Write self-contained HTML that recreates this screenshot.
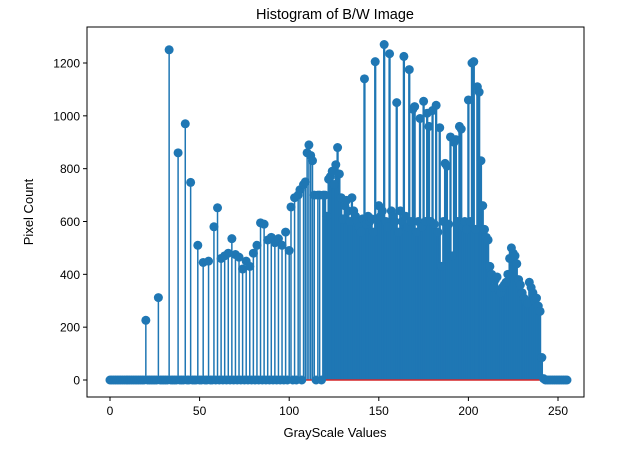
<!DOCTYPE html>
<html><head><meta charset="utf-8"><style>body{margin:0;background:#fff}svg{font-family:"Liberation Sans","DejaVu Sans",sans-serif}</style></head>
<body>
<svg id="chart" width="641" height="454" xmlns="http://www.w3.org/2000/svg">
<rect width="641" height="454" fill="#fff"/>
<text x="335" y="19" text-anchor="middle" font-size="14.5">Histogram of B/W Image</text>
<g id="marks"></g>
<g id="axes"></g>
<text x="335" y="437" text-anchor="middle" font-size="13">GrayScale Values</text>
<text transform="translate(33,212) rotate(-90)" text-anchor="middle" font-size="13">Pixel Count</text>
</svg>
<script>
const counts = [0,0,0,0,0,0,0,0,0,0,0,0,0,0,0,0,0,0,0,0,
226,0,0,0,0,0,0,312,0,0,0,0,0,1250,0,0,0,0,860,0,0,0,970,0,0,748,0,0,0,510,0,0,445,0,0,450,0,0,580,0,652,0,460,0,470,0,480,0,535,0,475,0,465,0,420,0,450,0,430,0,480,0,510,0,595,0,590,0,530,0,540,0,520,0,535,0,510,0,560,0,490,655,0,690,0,700,720,0,740,750,860,890,850,830,700,0,700,700,0,
700,700,620,760,770,790,740,815,880,780,
690,610,660,680,640,600,690,640,620,600,
580,560,610,1140,590,620,600,610,560,1205,
610,660,620,640,1270,600,580,1235,640,620,
600,1050,560,640,600,1225,620,580,1175,600,
1025,1035,560,600,990,580,1055,600,1010,960,
600,1020,590,1040,560,955,430,600,820,810,
590,920,470,900,910,600,960,950,580,600,
570,1060,600,1200,1205,570,1110,1090,830,660,
570,540,530,430,400,350,380,390,340,330,
350,360,370,400,460,500,480,470,440,380,
360,330,310,300,290,370,350,330,300,310,
280,260,85,5,0,0,0,0,0,0,
0,0,0,0,0,0,0];
const xTicks = [0,50,100,150,200,250];
const yTicks = [0,200,400,600,800,1000,1200];
const L=87,R=584,T=27,B=397;
const xs=v=>110+v*(448/250);
const ys=v=>380-v*(317/1200);
const NS="http://www.w3.org/2000/svg";
const mk=(t,a,p)=>{const e=document.createElementNS(NS,t);for(const k in a)e.setAttribute(k,a[k]);p.appendChild(e);return e;};
const marks=document.getElementById('marks'), axes=document.getElementById('axes');
counts.forEach((c,i)=>{
  const l=mk('line',{x1:xs(i),x2:xs(i),y1:ys(0),y2:ys(c),stroke:'#1f77b4','stroke-width':(i>=119&&i<=242)?2.3:1.5},marks);
  
  
});
const base=mk('line',{x1:xs(0),x2:xs(counts.length-1),y1:ys(0),y2:ys(0),stroke:'#d62728','stroke-width':1.5},marks);


counts.forEach((c,i)=>{
  const m=mk('circle',{cx:xs(i),cy:ys(c),r:4.5,fill:'#1f77b4'},marks);
  
  
});
const fr=mk('rect',{x:L,y:T,width:R-L,height:B-T,fill:'none',stroke:'#000','stroke-width':1},axes);


xTicks.forEach(v=>{
  mk('line',{x1:xs(v),x2:xs(v),y1:B,y2:B+4,stroke:'#000'},axes);
  const t=mk('text',{x:xs(v),y:B+18,'text-anchor':'middle','font-size':12},axes);t.textContent=v;
  
  
});
yTicks.forEach(v=>{
  mk('line',{x1:L-4,x2:L,y1:ys(v),y2:ys(v),stroke:'#000'},axes);
  const t=mk('text',{x:L-7,y:ys(v)+4.5,'text-anchor':'end','font-size':12},axes);t.textContent=v;
  
  
});
</script>
</body></html>
